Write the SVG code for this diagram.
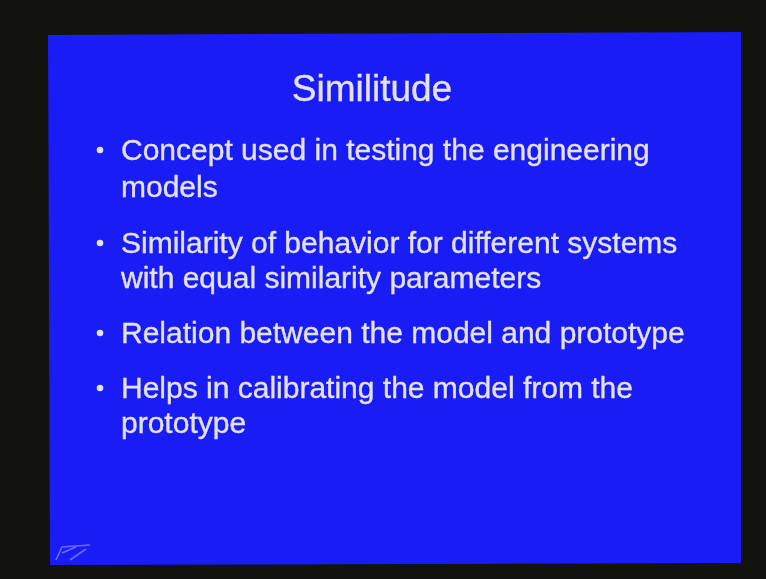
<svg xmlns="http://www.w3.org/2000/svg" width="766" height="579" viewBox="0 0 766 579">
  <defs>
    <filter id="soft" x="-5%" y="-20%" width="110%" height="140%">
      <feGaussianBlur stdDeviation="0.7"/>
    </filter>
    <style>
      .txt { font-family: "Liberation Sans", Arial, sans-serif; fill: #e2e2f2; stroke: #e2e2f2; stroke-width: 0.35; }
      .title { font-size: 37px; }
      .item { font-size: 30px; }
    </style>
  </defs>
  <!-- dark surround -->
  <rect width="766" height="579" fill="#12130c"/>
  <!-- slide panel -->
  <polygon points="48,35 741,32 741,563 50,565" fill="#1a1cf6"/>
  <g filter="url(#soft)">
    <text class="txt title" x="372" y="101" text-anchor="middle">Similitude</text>
    <g id="bullets" fill="#e2e2f2">
      <circle cx="100" cy="150" r="3.3"/>
      <circle cx="100" cy="243" r="3.3"/>
      <circle cx="100" cy="333" r="3.3"/>
      <circle cx="100" cy="388" r="3.3"/>
    </g>
    <text class="txt item" x="121" y="160">Concept used in testing the engineering</text>
    <text class="txt item" x="121" y="197">models</text>
    <text class="txt item" x="121" y="253">Similarity of behavior for different systems</text>
    <text class="txt item" x="121" y="288">with equal similarity parameters</text>
    <text class="txt item" x="121" y="343">Relation between the model and prototype</text>
    <text class="txt item" x="121" y="398">Helps in calibrating the model from the</text>
    <text class="txt item" x="121" y="433">prototype</text>
    <!-- corner logo mark -->
    <path d="M56,560 L62,547 L90,545 M62,553 L76,547 M70,560 L86,549" stroke="#9aa0ff" stroke-width="1.6" fill="none" opacity="0.6"/>
  </g>
</svg>
